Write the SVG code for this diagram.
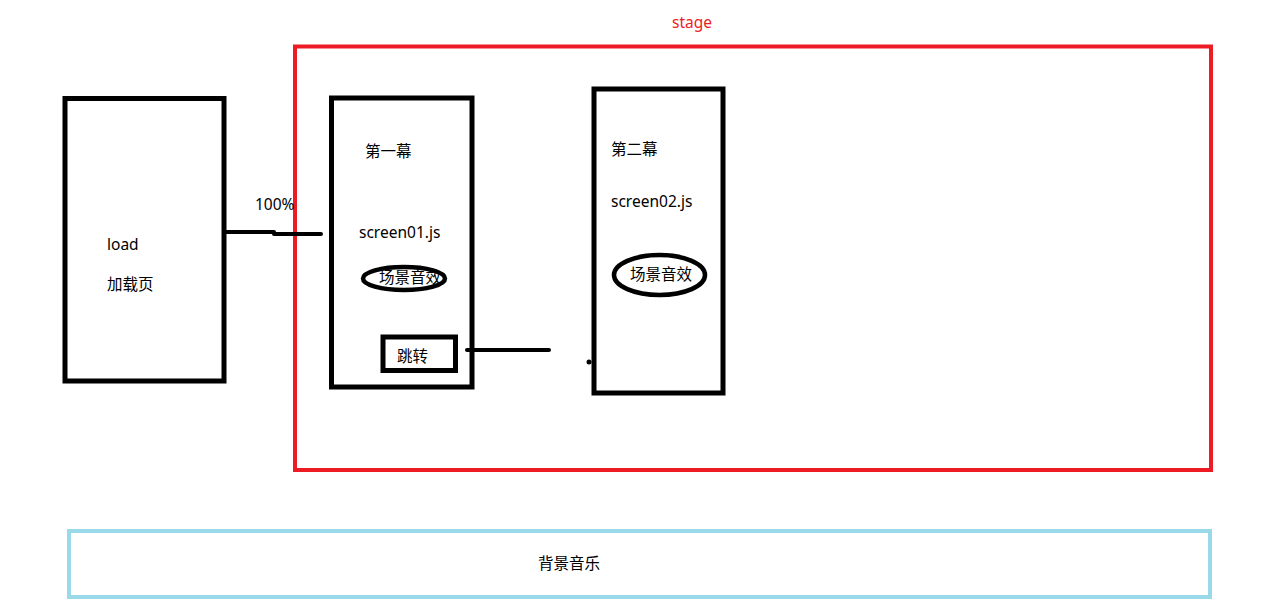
<svg xmlns="http://www.w3.org/2000/svg" width="1280" height="608" viewBox="0 0 1280 608">
<style>
.box{fill:none;stroke:#000;stroke-width:5}
.ln{fill:none;stroke:#000;stroke-width:4;stroke-linecap:round}
.ell{fill:none;stroke:#000;stroke-width:4.5}
text{font-family:"Noto Sans","Noto Sans CJK SC",sans-serif;font-size:15.5px;fill:#000}
</style>
<rect width="1280" height="608" fill="#fff"/>
<g id="stage">
<rect x="295" y="46.5" width="916" height="423.5" fill="none" stroke="#ed1c24" stroke-width="4"/>
<text x="672" y="28" style="fill:#ed1c24">stage</text>
</g>
<g id="load">
<rect class="box" x="65" y="98.5" width="159" height="282.5"/>
<text x="107" y="250">load</text>
<text x="107" y="290">加载页</text>
</g>
<g id="screen01">
<rect class="box" x="331.5" y="98" width="140.5" height="289"/>
<text x="365" y="157">第一幕</text>
<text x="359" y="238">screen01.js</text>
<ellipse class="ell" cx="404" cy="278.5" rx="41" ry="11.5"/>
<text x="379" y="283">场景音效</text>
</g>
<g id="jump">
<rect class="box" x="383" y="337" width="72.5" height="33.5"/>
<text x="397" y="362">跳转</text>
</g>
<g id="screen02">
<rect class="box" x="594" y="89" width="129" height="304"/>
<text x="611" y="155">第二幕</text>
<text x="611" y="207">screen02.js</text>
<ellipse class="ell" cx="659.5" cy="275" rx="45.5" ry="20"/>
<text x="630" y="280">场景音效</text>
</g>
<g id="bgm">
<rect x="69" y="531" width="1141" height="66" fill="none" stroke="#99d9ea" stroke-width="4"/>
<text x="538" y="569">背景音乐</text>
</g>
<g id="connectors">
<polyline class="ln" points="226,232 274,232"/>
<polyline class="ln" points="274,234 321,234"/>
<text x="255" y="210">100%</text>
<line class="ln" x1="467" y1="350" x2="549" y2="350"/>
<circle cx="589" cy="362" r="2.5" fill="#000"/>
</g>
</svg>
